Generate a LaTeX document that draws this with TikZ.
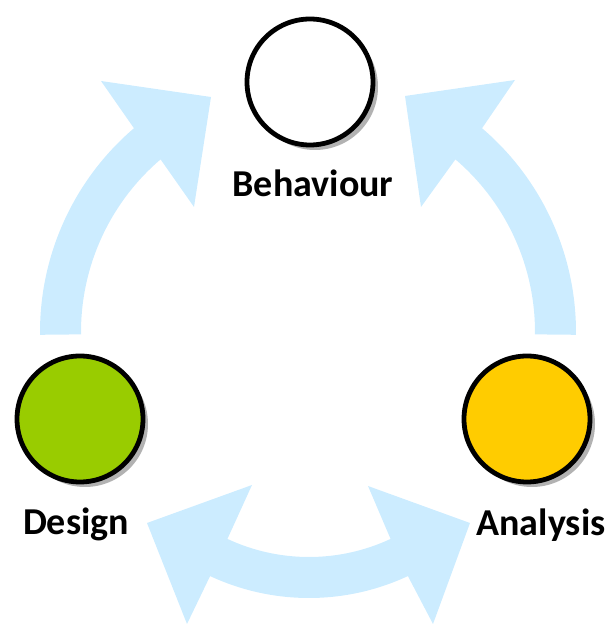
\documentclass[tikz,border=0pt]{standalone}
\usepackage{fontspec}
\setmainfont{Carlito}
\usetikzlibrary{calc,shadows}

\definecolor{cyflow}{RGB}{204,236,255}
\definecolor{cygreen}{RGB}{153,204,0}
\definecolor{cyyellow}{RGB}{255,204,0}
\definecolor{cyshadow}{RGB}{178,178,178}

\begin{document}
\begin{tikzpicture}[
  x=1pt,
  y=1pt,
  every node/.style={inner sep=0pt, outer sep=0pt},
  stage/.style={circle, draw=black, line width=4.8pt, minimum size=126pt,
    drop shadow={shadow xshift=5pt, shadow yshift=-5pt, fill=cyshadow, opacity=1}},
  tag/.style={font=\bfseries\fontsize{38}{40}\selectfont, text=black, anchor=base},
  flow/.style={fill=cyflow}
]

  \path[use as bounding box] (0,0) rectangle (609,624);

  % Centres of the bent arrows
  \coordinate (top) at (308,292);
  \coordinate (bot) at (309,260);

  % Design -> Behaviour
  \fill[flow] ($(top)+(180.6:268)$) arc[start angle=180.6, end angle=130.5, radius=268]
    -- (101,543) -- (211,527) -- (194,417)
    -- ($(top)+(130.5:227)$) arc[start angle=130.5, end angle=180.6, radius=227] -- cycle;

  % Analysis -> Behaviour
  \fill[flow] ($(top)+(-0.6:268)$) arc[start angle=-0.6, end angle=49.5, radius=268]
    -- (515,544) -- (405,528) -- (421,417)
    -- ($(top)+(49.5:227)$) arc[start angle=49.5, end angle=-0.6, radius=227] -- cycle;

  % Design <-> Analysis
  \fill[flow] ($(bot)+(245:193)$) arc[start angle=245, end angle=295, radius=193]
    -- (368,138) -- (470,101) -- (433,0)
    -- ($(bot)+(295:234)$) arc[start angle=295, end angle=245, radius=234]
    -- (187,0) -- (147,101) -- (252,139) -- cycle;

  % Stages
  \node[stage, fill=white] (behaviour) at (310,542) {};
  \node[stage, fill=cygreen] (design) at (80,205) {};
  \node[stage, fill=cyyellow] (analysis) at (527,205) {};

  \node[tag] (behaviourlabel) at (313,427) {Behaviour};
  \node[tag] (designlabel) at (76,89) {Design};
  \node[tag] (analysislabel) at (541,88) {Analysis};

\end{tikzpicture}
\end{document}
